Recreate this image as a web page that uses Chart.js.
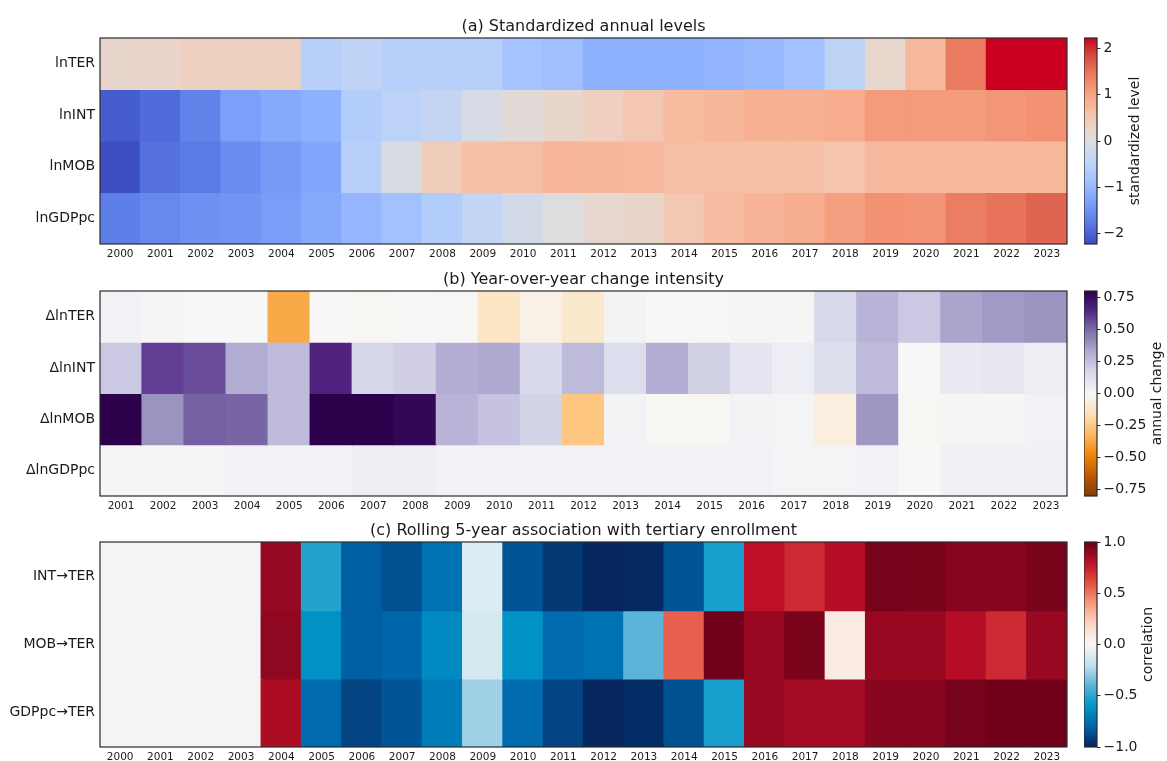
<!DOCTYPE html>
<html>
<head>
<meta charset="utf-8">
<title>Tertiary enrollment heatmaps</title>
<script src="https://cdn.jsdelivr.net/npm/chart.js@4.4.1/dist/chart.umd.min.js"></script>
<style>
  html, body { margin: 0; padding: 0; background: #ffffff; }
  #fig { position: relative; width: 1167px; height: 761px; overflow: hidden; background: #ffffff; }
  #fig canvas { position: absolute; }
</style>
</head>
<body>
<div id="fig">
  <canvas id="heatLevels"></canvas>
  <canvas id="barLevels"></canvas>
  <canvas id="heatChange"></canvas>
  <canvas id="barChange"></canvas>
  <canvas id="heatRolling"></canvas>
  <canvas id="barRolling"></canvas>
</div>
<script>
// ---------------------------------------------------------------- data
const yearsLevels  = ['2000','2001','2002','2003','2004','2005','2006','2007','2008','2009','2010','2011',
                      '2012','2013','2014','2015','2016','2017','2018','2019','2020','2021','2022','2023'];
const yearsChange  = ['2001','2002','2003','2004','2005','2006','2007','2008','2009','2010','2011','2012',
                      '2013','2014','2015','2016','2017','2018','2019','2020','2021','2022','2023'];
const yearsRolling = yearsLevels.slice();

// (a) standardized annual levels
const rowsLevels = ['lnTER', 'lnINT', 'lnMOB', 'lnGDPpc'];
const lnTER   = [0.20, 0.22, 0.33, 0.34, 0.34, -0.55, -0.47, -0.55, -0.55, -0.55, -0.82, -0.88,
                 -1.10, -1.10, -1.10, -1.05, -0.95, -0.85, -0.48, 0.18, 0.72, 1.42, 2.22, 2.22];
const lnINT   = [-2.05, -1.90, -1.65, -1.33, -1.20, -1.10, -0.62, -0.50, -0.40, -0.13, 0.08, 0.20,
                 0.35, 0.50, 0.70, 0.75, 0.85, 0.85, 0.90, 1.10, 1.10, 1.10, 1.15, 1.20];
const lnMOB   = [-2.20, -1.85, -1.75, -1.55, -1.40, -1.25, -0.55, -0.08, 0.40, 0.62, 0.64, 0.78,
                 0.75, 0.73, 0.65, 0.62, 0.62, 0.62, 0.55, 0.72, 0.72, 0.72, 0.72, 0.74];
const lnGDPpc = [-1.70, -1.60, -1.50, -1.45, -1.35, -1.20, -1.00, -0.85, -0.62, -0.42, -0.18, 0.00,
                 0.15, 0.22, 0.48, 0.68, 0.80, 0.88, 1.05, 1.20, 1.17, 1.40, 1.50, 1.62];

// (b) year-over-year change
const rowsChange = ['\u0394lnTER', '\u0394lnINT', '\u0394lnMOB', '\u0394lnGDPpc'];
const dTER   = [0.03, 0.01, 0.00, 0.00, -0.37, 0.00, -0.01, 0.00, -0.005, -0.12, -0.04, -0.10,
                0.02, 0.00, 0.00, 0.01, 0.01, 0.16, 0.29, 0.22, 0.34, 0.37, 0.39];
const dINT   = [0.22, 0.59, 0.56, 0.32, 0.27, 0.66, 0.17, 0.20, 0.31, 0.33, 0.16, 0.27,
                0.14, 0.31, 0.19, 0.10, 0.05, 0.13, 0.27, 0.00, 0.07, 0.09, 0.05];
const dMOB   = [0.80, 0.39, 0.52, 0.51, 0.27, 0.80, 0.80, 0.77, 0.29, 0.24, 0.18, -0.26,
                0.02, -0.01, -0.01, 0.02, 0.015, -0.06, 0.38, -0.01, 0.01, 0.01, 0.03];
const dGDPpc = [0.01, 0.01, 0.01, 0.03, 0.03, 0.03, 0.05, 0.05, 0.03, 0.03, 0.03, 0.03,
                0.03, 0.03, 0.03, 0.03, 0.015, 0.015, 0.03, 0.00, 0.035, 0.035, 0.035];

// (c) rolling 5-year correlation with tertiary enrollment (first window ends 2004)
const rowsRolling = ['INT\u2192TER', 'MOB\u2192TER', 'GDPpc\u2192TER'];
const rINT   = [null, null, null, null, 0.90, -0.52, -0.82, -0.86, -0.75, -0.10, -0.85, -0.93,
                -0.99, -0.98, -0.85, -0.55, 0.80, 0.72, 0.82, 0.97, 0.96, 0.93, 0.93, 0.96];
const rMOB   = [null, null, null, null, 0.91, -0.62, -0.82, -0.79, -0.65, -0.14, -0.62, -0.77,
                -0.75, -0.40, 0.56, 0.98, 0.89, 0.96, 0.08, 0.89, 0.89, 0.82, 0.72, 0.89];
const rGDPpc = [null, null, null, null, 0.84, -0.77, -0.90, -0.85, -0.70, -0.27, -0.77, -0.90,
                -0.99, -0.97, -0.86, -0.55, 0.89, 0.86, 0.86, 0.93, 0.93, 0.97, 0.98, 0.98];

// colour-bar ticks
const ticksLevels  = [-2, -1, 0, 1, 2];
const ticksChange  = [-0.75, -0.5, -0.25, 0, 0.25, 0.5, 0.75];
const ticksRolling = [-1, -0.5, 0, 0.5, 1];

// ---------------------------------------------------------------- colour maps
const COOLWARM = [
  [59,76,192],[68,90,204],[77,104,215],[87,117,225],[98,130,234],[108,142,241],[119,154,247],
  [130,165,251],[141,176,254],[152,185,255],[163,194,255],[174,201,253],[184,208,249],
  [194,213,244],[204,217,238],[213,219,230],[221,221,221],[229,216,209],[236,211,197],
  [241,204,185],[245,196,173],[247,187,160],[247,177,148],[247,166,135],[244,154,123],
  [241,141,111],[236,127,99],[229,112,88],[222,96,77],[215,78,64],[210,56,54],[206,30,44],[203,0,32]
];
const PUOR = [
  [127,59,8],[190,90,5],[240,135,10],[253,184,99],[254,224,182],[247,247,247],
  [216,218,235],[178,171,210],[128,115,172],[84,39,136],[45,0,75]
];
const RDBU_R = [
  [5,35,90],[0,100,170],[0,150,200],[90,180,215],[195,225,236],[247,247,247],
  [252,215,198],[245,155,125],[228,80,65],[190,15,40],[105,0,25]
];
const NAN_COLOR = '#f4f4f4';

function sampleMap(stops, t) {
  t = Math.max(0, Math.min(1, t));
  const pos = t * (stops.length - 1);
  const i = Math.min(Math.floor(pos), stops.length - 2);
  const f = pos - i;
  const a = stops[i], b = stops[i + 1];
  const c = [0, 1, 2].map(k => Math.round(a[k] + (b[k] - a[k]) * f));
  return `rgb(${c[0]},${c[1]},${c[2]})`;
}

// ---------------------------------------------------------------- layout
const FONT = "'DejaVu Sans', 'Liberation Sans', sans-serif";
const INK = '#1a1a1a';
const FIG_W = 1167;
const PLOT_LEFT = 100, PLOT_RIGHT = 1067;
const CB_LEFT = 1084, CB_W = 13;
const TITLE_SPACE = 38, XAXIS_H = 18;
const TICK_LEN = 3.5, TICK_PAD = 3;
const SEAM = 0.012;

const framePlugin = {
  id: 'frame',
  afterDatasetsDraw(chart) {
    const { ctx, chartArea: a } = chart;
    ctx.save();
    ctx.strokeStyle = '#2a2a2a';
    ctx.lineWidth = 1.2;
    ctx.strokeRect(a.left, a.top, a.right - a.left, a.bottom - a.top);
    ctx.restore();
  }
};

// panel title, centred over the plotting area
const panelTitlePlugin = {
  id: 'panelTitle',
  afterDraw(chart, args, opts) {
    const { ctx, chartArea: a } = chart;
    ctx.save();
    ctx.font = `16px ${FONT}`;
    ctx.fillStyle = INK;
    ctx.textAlign = 'center';
    ctx.textBaseline = 'alphabetic';
    ctx.fillText(opts.text, (a.left + a.right) / 2, a.top - 7);
    ctx.restore();
  }
};

const barLabelPlugin = {
  id: 'barLabel',
  afterDraw(chart, args, opts) {
    const { ctx, chartArea: a } = chart;
    const ys = chart.scales.y;
    ctx.save();
    ctx.font = `14px ${FONT}`;
    const maxW = Math.max(...ys.ticks.map(t => ctx.measureText(String(t.label)).width));
    const x = a.right + TICK_LEN + TICK_PAD + maxW + 4;
    ctx.translate(x, (a.top + a.bottom) / 2);
    ctx.rotate(-Math.PI / 2);
    ctx.fillStyle = INK;
    ctx.textAlign = 'center';
    ctx.textBaseline = 'top';
    ctx.fillText(opts.text, 0, 0);
    ctx.restore();
  }
};

function placeCanvas(id, left, top, w, h) {
  const c = document.getElementById(id);
  c.width = w; c.height = h;
  c.style.left = left + 'px'; c.style.top = top + 'px';
  c.style.width = w + 'px'; c.style.height = h + 'px';
  return c;
}

function fmtTick(v, decimals) {
  return v.toFixed(decimals).replace('-', '\u2212');
}

function panel(cfg) {
  const canvasTop = cfg.plotTop - TITLE_SPACE;
  const plotH = cfg.plotBottom - cfg.plotTop;
  const canvasH = TITLE_SPACE + plotH + XAXIS_H;
  const vmin = cfg.vmin, vmax = cfg.vmax;
  const colour = v => v == null ? NAN_COLOR : sampleMap(cfg.cmap, (v - vmin) / (vmax - vmin));

  // heat map: one floating-bar dataset per row, one bar per year
  const heat = placeCanvas(cfg.heatId, 0, canvasTop, FIG_W, canvasH);
  new Chart(heat, {
    type: 'bar',
    data: {
      labels: cfg.years,
      datasets: cfg.rows.map((name, r) => ({
        label: name,
        data: cfg.years.map(() => [r - SEAM, r + 1 + SEAM]),
        backgroundColor: cfg.values[r].map(colour),
        borderWidth: 0,
        barPercentage: 1.03,
        categoryPercentage: 1,
        grouped: false,
        clip: 0
      }))
    },
    options: {
      responsive: false,
      animation: false,
      devicePixelRatio: 1,
      layout: { padding: { left: 0, right: FIG_W - PLOT_RIGHT, top: TITLE_SPACE, bottom: 0 } },
      plugins: {
        legend: { display: false },
        tooltip: { enabled: false },
        title: { display: false },
        panelTitle: { text: cfg.title }
      },
      scales: {
        x: {
          type: 'category',
          offset: true,
          grid: { display: false, drawTicks: false },
          border: { display: false },
          ticks: { color: INK, font: { family: FONT, size: 10.5 }, padding: 4, maxRotation: 0, autoSkip: false },
          afterFit: s => { s.height = XAXIS_H; }
        },
        y: {
          type: 'linear',
          min: 0,
          max: cfg.rows.length,
          reverse: true,
          grid: { display: false, drawTicks: false },
          border: { display: false },
          afterBuildTicks: s => { s.ticks = cfg.rows.map((_, i) => ({ value: i + 0.5 })); },
          ticks: {
            callback: (v, i) => cfg.rows[i],
            color: INK,
            font: { family: FONT, size: 14 },
            padding: 5,
            autoSkip: false
          },
          afterFit: s => { s.width = PLOT_LEFT; }
        }
      }
    },
    plugins: [framePlugin, panelTitlePlugin]
  });

  // colour bar: a single floating bar spanning the norm, filled with the map
  const barW = FIG_W - CB_LEFT;
  const bar = placeCanvas(cfg.barId, CB_LEFT, canvasTop, barW, canvasH);
  new Chart(bar, {
    type: 'bar',
    data: {
      labels: [''],
      datasets: [{
        data: [[vmin, vmax]],
        backgroundColor: ctx => {
          const a = ctx.chart.chartArea;
          if (!a) return NAN_COLOR;
          const g = ctx.chart.ctx.createLinearGradient(0, a.bottom, 0, a.top);
          for (let i = 0; i <= 64; i++) g.addColorStop(i / 64, sampleMap(cfg.cmap, i / 64));
          return g;
        },
        borderWidth: 0,
        barPercentage: 1,
        categoryPercentage: 1,
        clip: 0
      }]
    },
    options: {
      responsive: false,
      animation: false,
      devicePixelRatio: 1,
      layout: { padding: { left: 0, right: 0, top: TITLE_SPACE, bottom: XAXIS_H } },
      plugins: {
        legend: { display: false },
        tooltip: { enabled: false },
        barLabel: { text: cfg.barLabel }
      },
      scales: {
        x: { display: false },
        y: {
          position: 'right',
          min: vmin,
          max: vmax,
          grid: { display: true, drawOnChartArea: false, drawTicks: true, tickLength: TICK_LEN, color: '#2a2a2a', lineWidth: 1 },
          border: { display: false },
          afterBuildTicks: s => { s.ticks = cfg.barTicks.map(v => ({ value: v })); },
          ticks: {
            callback: v => fmtTick(v, cfg.decimals),
            color: INK,
            font: { family: FONT, size: 14 },
            padding: TICK_PAD,
            autoSkip: false
          },
          afterFit: s => { s.width = barW - CB_W; }
        }
      }
    },
    plugins: [framePlugin, barLabelPlugin]
  });
}

panel({
  heatId: 'heatLevels', barId: 'barLevels',
  title: '(a) Standardized annual levels',
  plotTop: 38, plotBottom: 244,
  years: yearsLevels, rows: rowsLevels,
  values: [lnTER, lnINT, lnMOB, lnGDPpc],
  cmap: COOLWARM, vmin: -2.22, vmax: 2.22,
  barTicks: ticksLevels, decimals: 0, barLabel: 'standardized level'
});

panel({
  heatId: 'heatChange', barId: 'barChange',
  title: '(b) Year-over-year change intensity',
  plotTop: 291, plotBottom: 496,
  years: yearsChange, rows: rowsChange,
  values: [dTER, dINT, dMOB, dGDPpc],
  cmap: PUOR, vmin: -0.80, vmax: 0.80,
  barTicks: ticksChange, decimals: 2, barLabel: 'annual change'
});

panel({
  heatId: 'heatRolling', barId: 'barRolling',
  title: '(c) Rolling 5-year association with tertiary enrollment',
  plotTop: 542, plotBottom: 747,
  years: yearsRolling, rows: rowsRolling,
  values: [rINT, rMOB, rGDPpc],
  cmap: RDBU_R, vmin: -1, vmax: 1,
  barTicks: ticksRolling, decimals: 1, barLabel: 'correlation'
});
</script>
</body>
</html>
